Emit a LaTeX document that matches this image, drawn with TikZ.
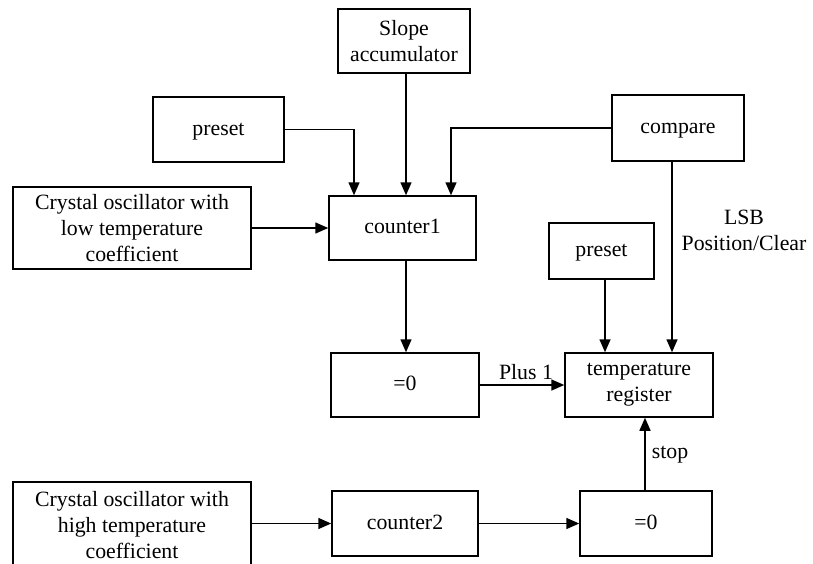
\documentclass[tikz,border=0pt]{standalone}
\usepackage{fontspec}
\setmainfont{Liberation Serif}
\usetikzlibrary{arrows.meta}
\begin{document}
\begin{tikzpicture}[x=1pt,y=-1pt,
  blk/.style={draw,line width=1.5pt,inner sep=0pt,align=center,
    font=\fontsize{21.8}{26}\selectfont},
  one/.style={text height=15pt,text depth=4pt},
  conn/.style={line width=1.5pt,-{Triangle[length=13pt,width=11pt]}},
  lbl/.style={inner sep=0pt,align=center,font=\fontsize{21.8}{26}\selectfont}]
\useasboundingbox (0,0) rectangle (813,563);
\node[blk,minimum width=132pt,minimum height=64pt] (slope) at (404,41) {Slope\\accumulator};
\node[blk,one,minimum width=131pt,minimum height=65pt] (preA) at (218.5,129.5) {preset};
\node[blk,one,minimum width=132pt,minimum height=66pt] (cmp) at (678,128) {compare};
\node[blk,minimum width=238pt,minimum height=82pt] (xlow) at (132,228) {Crystal oscillator with\\low temperature\\coefficient};
\node[blk,one,minimum width=147pt,minimum height=64pt] (c1) at (402.5,228) {counter1};
\node[blk,one,minimum width=105pt,minimum height=56pt] (preB) at (601.5,251) {preset};
\node[blk,one,minimum width=148pt,minimum height=64pt] (z1) at (405,385) {=0};
\node[blk,minimum width=148pt,minimum height=64pt] (tr) at (639,385) {temperature\\register};
\node[blk,minimum width=238pt,minimum height=86pt] (xhigh) at (132,525) {Crystal oscillator with\\high temperature\\coefficient};
\node[blk,one,minimum width=146pt,minimum height=65pt] (c2) at (405,523.5) {counter2};
\node[blk,one,minimum width=132pt,minimum height=65pt] (z2) at (646,523.5) {=0};
\coordinate (pA) at (354,0);
\coordinate (pC) at (451,0);
\coordinate (sl) at (406,0);
\coordinate (lsb) at (672,0);
\coordinate (pb) at (605,0);
\coordinate (st) at (645,0);
\draw[conn] (preA.east) -| (pA |- c1.north);
\draw[conn] (sl |- slope.south) -- (sl |- c1.north);
\draw[conn] (cmp.west) -| (pC |- c1.north);
\draw[conn] (xlow.east) -- (c1.west);
\draw[conn] (sl |- c1.south) -- (sl |- z1.north);
\draw[conn] (lsb |- cmp.south) -- (lsb |- tr.north);
\draw[conn] (pb |- preB.south) -- (pb |- tr.north);
\draw[conn] (z1.east) -- (tr.west);
\draw[conn] (st |- z2.north) -- (st |- tr.south);
\draw[conn] (xhigh.east |- c2.west) -- (c2.west);
\draw[conn] (c2.east) -- (z2.west);
\node[lbl] (plus) at (526,372) {Plus 1};
\node[lbl] (stop) at (670,455) {stop};
\node[lbl] (lsbt) at (744,230) {LSB\\Position/Clear};
\end{tikzpicture}
\end{document}
